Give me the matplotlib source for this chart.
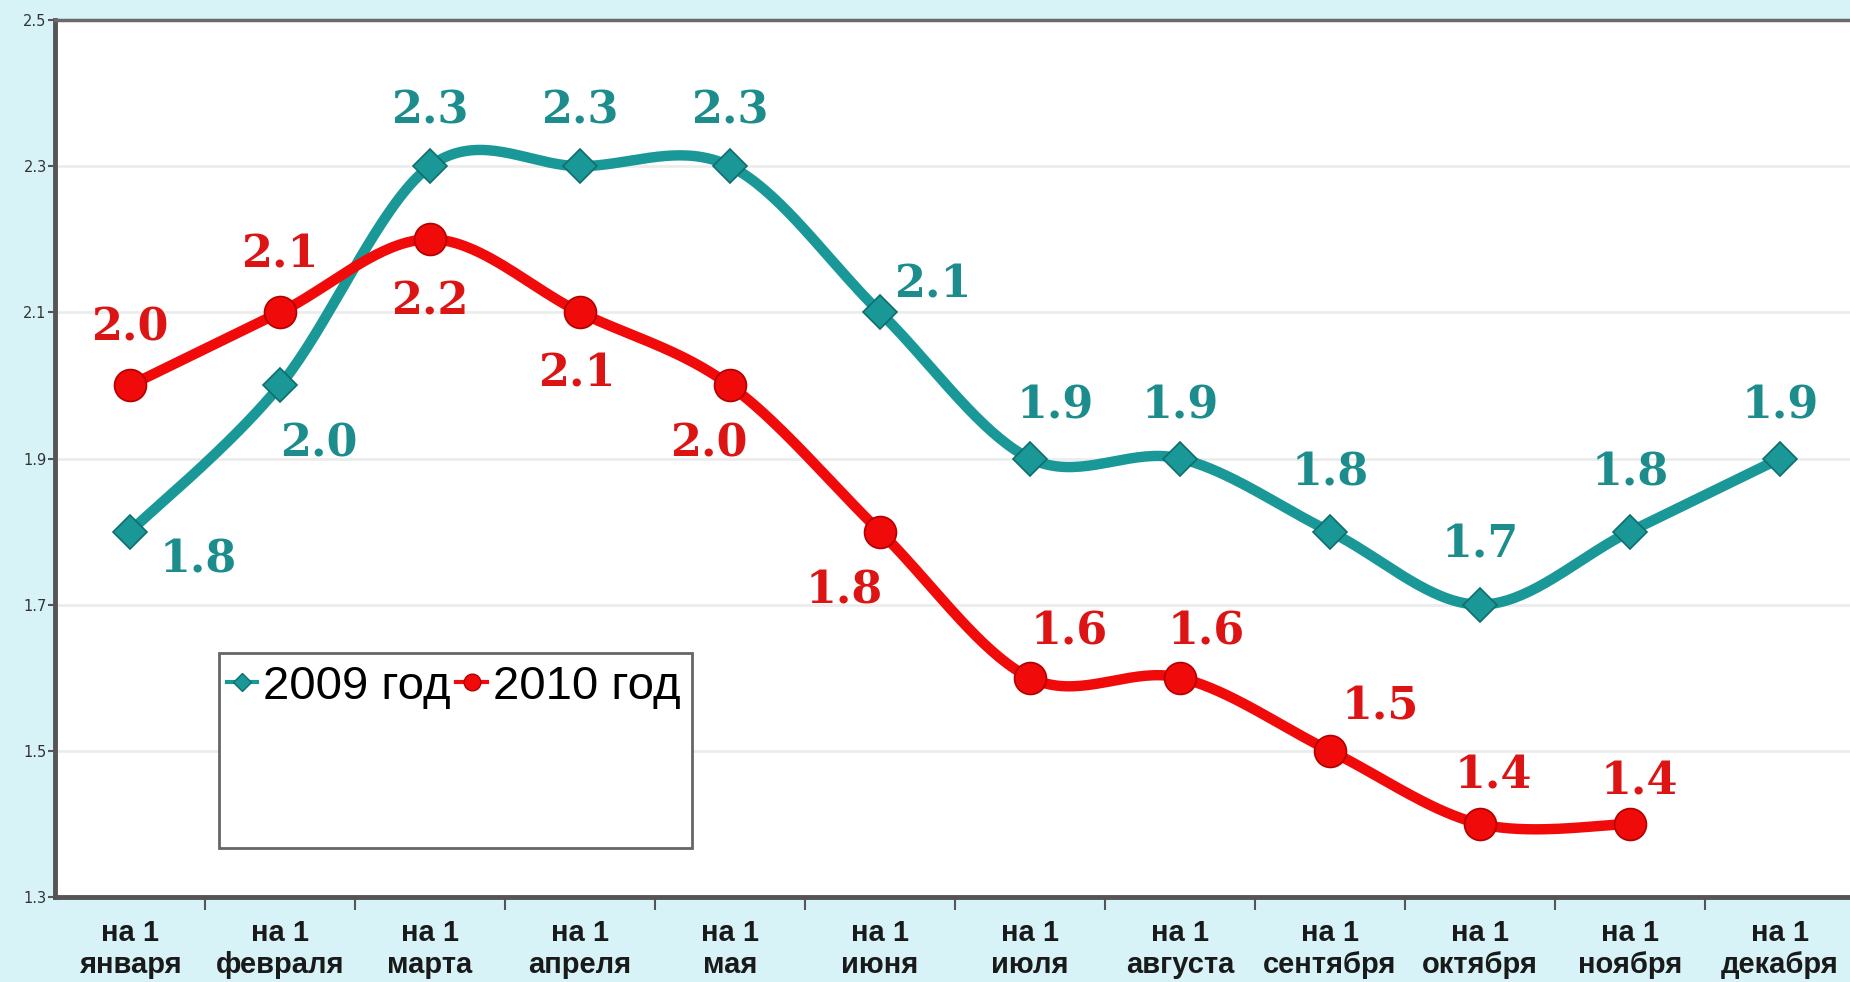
import matplotlib
matplotlib.use('Agg')
import matplotlib.pyplot as plt
from matplotlib.lines import Line2D
from matplotlib.patches import Rectangle
import numpy as np

months = ['на 1\nянваря', 'на 1\nфевраля', 'на 1\nмарта', 'на 1\nапреля', 'на 1\nмая',
          'на 1\nиюня', 'на 1\nиюля', 'на 1\nавгуста', 'на 1\nсентября',
          'на 1\nоктября', 'на 1\nноября', 'на 1\nдекабря']
y2009 = [1.8, 2.0, 2.3, 2.3, 2.3, 2.1, 1.9, 1.9, 1.8, 1.7, 1.8, 1.9]
y2010 = [2.0, 2.1, 2.2, 2.1, 2.0, 1.8, 1.6, 1.6, 1.5, 1.4, 1.4]
yticks = [1.3, 1.5, 1.7, 1.9, 2.1, 2.3, 2.5]

# label offsets in pixels (dx, dy) relative to each point
off2009 = [(68, -28), (39, -59), (0, 55), (0, 55), (0, 55), (53, 27),
           (25, 53), (0, 53), (0, 59), (0, 60), (0, 59), (0, 53)]
off2010 = [(0, 57), (0, 57), (0, -63), (-3, -62), (-21, -59), (-36, -59),
           (39, 46), (26, 46), (50, 44), (13, 48), (9, 42)]

teal = '#1a9898'
teal_txt = '#1c8c8c'
red = '#f00a0a'
red_txt = '#dc1414'


def smooth(y, n=40):
    # Excel-like smoothed line (Catmull-Rom bezier)
    x = np.arange(len(y), dtype=float)
    y = np.asarray(y, dtype=float)
    px = np.concatenate([[x[0]], x, [x[-1]]])
    py = np.concatenate([[y[0]], y, [y[-1]]])
    xs, ys = [], []
    t = np.linspace(0, 1, n)
    for i in range(len(y) - 1):
        p0 = np.array([x[i], y[i]])
        p3 = np.array([x[i + 1], y[i + 1]])
        p1 = p0 + (np.array([px[i + 2], py[i + 2]]) - np.array([px[i], py[i]])) / 6
        p2 = p3 - (np.array([px[i + 3], py[i + 3]]) - np.array([px[i + 1], py[i + 1]])) / 6
        b = ((1 - t) ** 3)[:, None] * p0 + (3 * (1 - t) ** 2 * t)[:, None] * p1 \
            + (3 * (1 - t) * t ** 2)[:, None] * p2 + (t ** 3)[:, None] * p3
        xs.extend(b[:, 0])
        ys.extend(b[:, 1])
    return xs, ys


fig = plt.figure(figsize=(18.5, 9.82), dpi=100, facecolor='#d7f3f8')
ax = fig.add_axes([55 / 1850, 85 / 982, 1800 / 1850, 877 / 982])
ax.set_facecolor('white')

for yt in yticks[1:-1]:
    ax.axhline(yt, color='#ececec', lw=2, zorder=1)

sx, sy = smooth(y2009)
ax.plot(sx, sy, color=teal, lw=7.5, solid_capstyle='round', zorder=3)
ax.plot(range(len(y2009)), y2009, 'D', ms=17.5, color=teal, mec='#0e6e6e', mew=1.2, zorder=4)
sx, sy = smooth(y2010)
ax.plot(sx, sy, color=red, lw=7.5, solid_capstyle='round', zorder=3)
ax.plot(range(len(y2010)), y2010, 'o', ms=23, color=red, mec='#b40000', mew=1.2, zorder=4)

for i, v in enumerate(y2009):
    ax.annotate(f'{v:.1f}', (i, v), xytext=off2009[i], textcoords='offset pixels',
                ha='center', va='center', fontsize=32, fontweight='bold',
                family='DejaVu Serif', color=teal_txt, zorder=5)
for i, v in enumerate(y2010):
    ax.annotate(f'{v:.1f}', (i, v), xytext=off2010[i], textcoords='offset pixels',
                ha='center', va='center', fontsize=32, fontweight='bold',
                family='DejaVu Serif', color=red_txt, zorder=5)

ax.set_xlim(-0.5, 11.5)
ax.set_ylim(1.3, 2.5)
ax.set_yticks(yticks)
ax.set_yticklabels([f'{v:.1f}' for v in yticks], fontsize=10.5, color='#333333')
ax.tick_params(axis='y', length=5, width=1.5, color='#555555', pad=1)

ax.set_xticks(np.arange(0.5, 11, 1))
ax.set_xticklabels([])
ax.tick_params(axis='x', which='major', length=9, width=1.5, color='#555555', direction='out')
ax.set_xticks(range(len(months)), minor=True)
ax.set_xticklabels(months, minor=True, fontsize=21, fontweight='bold',
                   family='Liberation Sans', color='#1a1a1a', linespacing=1.15)
ax.tick_params(axis='x', which='minor', length=0, pad=16)

for s in ['left', 'bottom']:
    ax.spines[s].set_color('#555555')
    ax.spines[s].set_linewidth(3.5)
ax.spines['top'].set_color('#6a6a6a')
ax.spines['top'].set_linewidth(2.5)
ax.spines['right'].set_visible(False)

# legend box
fig.patches.append(Rectangle((219 / 1850, 1 - 848 / 982), 473 / 1850, 195 / 982,
                             transform=fig.transFigure, facecolor='white',
                             edgecolor='#666666', lw=2, zorder=6))
handles = [Line2D([], [], color=teal, lw=3, marker='D', ms=9, mec='#0e6e6e'),
           Line2D([], [], color=red, lw=3, marker='o', ms=12, mec='#b40000')]
leg = fig.legend(handles, ['2009 год', '2010 год'], loc='upper left',
                 bbox_to_anchor=(222 / 1850, 1 - 660 / 982), ncol=2, frameon=False,
                 prop={'family': 'Liberation Sans', 'size': 34},
                 handlelength=0.65, handletextpad=0.12, columnspacing=0.12,
                 borderpad=0.1, borderaxespad=0)
leg.set_zorder(7)

fig.savefig('out.png', dpi=100, facecolor=fig.get_facecolor())
